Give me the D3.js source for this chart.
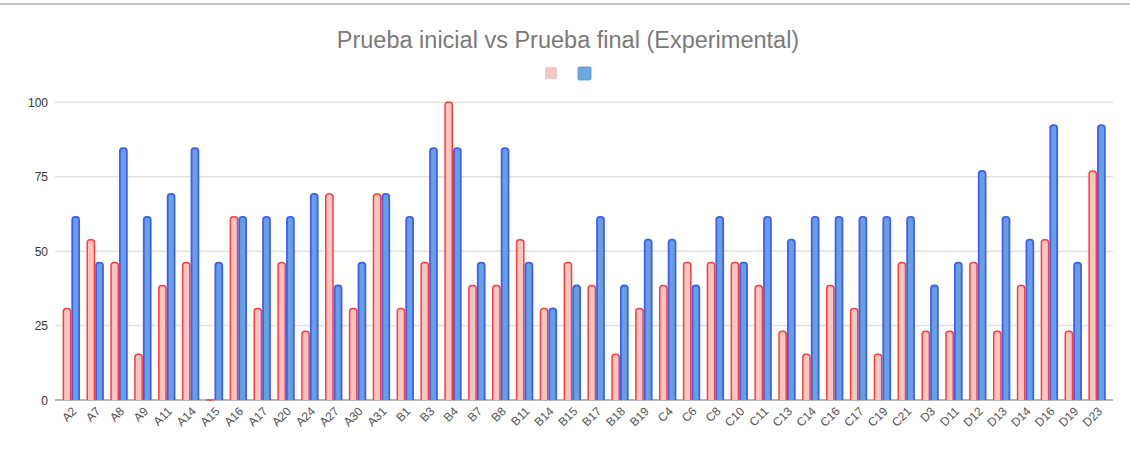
<!DOCTYPE html>
<html lang="es">
  <head>
    <meta charset="utf-8" />
    <title>Prueba inicial vs Prueba final (Experimental)</title>
    <script src="https://d3js.org/d3.v7.min.js"></script>
    <style>
      body { margin: 0; background: #fff; }
      .axis text { font-family: "Liberation Sans", Arial, sans-serif; }
    </style>
  </head>
  <body>
    <script>
      // students
      var categories = ["A2","A7","A8","A9","A11","A14","A15","A16","A17","A20","A24","A27","A30","A31",
        "B1","B3","B4","B7","B8","B11","B14","B15","B17","B18","B19",
        "C4","C6","C8","C10","C11","C13","C14","C16","C17","C19","C21",
        "D3","D11","D12","D13","D14","D16","D19","D23"];

      // prueba inicial (pink)
      var inicial = [30.77,53.85,46.15,15.38,38.46,46.15,0,61.54,30.77,46.15,23.08,69.23,30.77,69.23,
        30.77,46.15,100,38.46,38.46,53.85,30.77,46.15,38.46,15.38,30.77,
        38.46,46.15,46.15,46.15,38.46,23.08,15.38,38.46,30.77,15.38,46.15,
        23.08,23.08,46.15,23.08,38.46,53.85,23.08,76.92];

      // prueba final (blue)
      var final = [61.54,46.15,84.62,61.54,69.23,84.62,46.15,61.54,61.54,61.54,69.23,38.46,46.15,69.23,
        61.54,84.62,84.62,46.15,84.62,46.15,30.77,38.46,61.54,38.46,53.85,
        53.85,38.46,61.54,46.15,61.54,53.85,61.54,61.54,61.54,61.54,61.54,
        38.46,46.15,76.92,61.54,53.85,92.31,46.15,92.31];

      var yTicks = [0, 25, 50, 75, 100];

      var W = 1130, H = 450;
      var plot = { left: 59.4, right: 1109, top: 102.3, bottom: 400 };

      var svg = d3.select("body").append("svg")
        .attr("width", W).attr("height", H);

      // spreadsheet border line at the top
      svg.append("line")
        .attr("x1", 0).attr("x2", W).attr("y1", 4).attr("y2", 4)
        .attr("stroke", "#c4c4c4").attr("stroke-width", 2);

      var x = d3.scaleBand().domain(categories)
        .range([plot.left, plot.right])
        .paddingInner(0.27).paddingOuter(0.135);
      var xs = d3.scaleBand().domain(["ini", "fin"]).range([0, x.bandwidth()]);
      var y = d3.scaleLinear().domain([0, 100]).range([plot.bottom, plot.top]);

      // title
      svg.append("text")
        .attr("x", 568).attr("y", 48)
        .attr("text-anchor", "middle")
        .attr("font-family", "'Liberation Sans', Arial, sans-serif")
        .attr("font-size", 23.5)
        .attr("fill", "#7a7a7a")
        .text("Prueba inicial vs Prueba final (Experimental)");

      // legend (no labels)
      svg.append("rect").attr("x", 545).attr("y", 67).attr("width", 12).attr("height", 12)
        .attr("rx", 1).attr("fill", "#f4c7c3");
      svg.append("rect").attr("x", 578).attr("y", 67).attr("width", 13).attr("height", 13)
        .attr("rx", 1).attr("fill", "#6fa8dc").attr("stroke", "#5b8fe6").attr("stroke-width", 0.8);

      // gridlines + y labels
      var gy = svg.append("g").attr("class", "axis");
      gy.selectAll("line").data(yTicks.filter(d => d > 0)).join("line")
        .attr("x1", 55).attr("x2", 1113)
        .attr("y1", d => y(d)).attr("y2", d => y(d))
        .attr("stroke", "#e2e2e2").attr("stroke-width", 1.5);
      gy.selectAll("text").data(yTicks).join("text")
        .attr("x", 48).attr("y", d => y(d) + 4.5)
        .attr("text-anchor", "end")
        .attr("font-size", 12)
        .attr("fill", "#333")
        .text(d => d);

      // baseline (under the bars so a zero bar still shows)
      svg.append("line")
        .attr("x1", 55).attr("x2", 1113)
        .attr("y1", y(0)).attr("y2", y(0))
        .attr("stroke", "#9e9e9e").attr("stroke-width", 1.5);

      // rounded-top bar path
      function barPath(x0, w, v) {
        var top = y(v), bot = y(0);
        var r = Math.min(3, w / 2, (bot - top));
        if (bot - top <= 0) return `M${x0},${bot}H${x0 + w}`;
        return `M${x0},${bot}V${top + r}Q${x0},${top} ${x0 + r},${top}` +
          `H${x0 + w - r}Q${x0 + w},${top} ${x0 + w},${top + r}V${bot}`;
      }

      var groups = svg.append("g").selectAll("g")
        .data(categories.map((c, i) => ({ cat: c, ini: inicial[i], fin: final[i] })))
        .join("g")
        .attr("transform", d => `translate(${x(d.cat)},0)`);

      groups.append("path")
        .attr("d", d => barPath(xs("ini") + 0.75, xs.bandwidth() - 1.5, d.ini))
        .attr("fill", "#f4c7c3")
        .attr("stroke", "#ff3b3b")
        .attr("stroke-width", 1.5);

      groups.append("path")
        .attr("d", d => barPath(xs("fin") + 0.9, xs.bandwidth() - 1.8, d.fin))
        .attr("fill", "#6a9fdc")
        .attr("stroke", "#3e5ff5")
        .attr("stroke-width", 1.8);

      // x labels
      svg.append("g").attr("class", "axis").selectAll("text")
        .data(categories).join("text")
        .attr("transform", d => `translate(${x(d) + x.bandwidth() / 2 + 6},${plot.bottom + 12}) rotate(-45)`)
        .attr("text-anchor", "end")
        .attr("font-size", 12)
        .attr("fill", "#555")
        .text(d => d);
    </script>
  </body>
</html>
